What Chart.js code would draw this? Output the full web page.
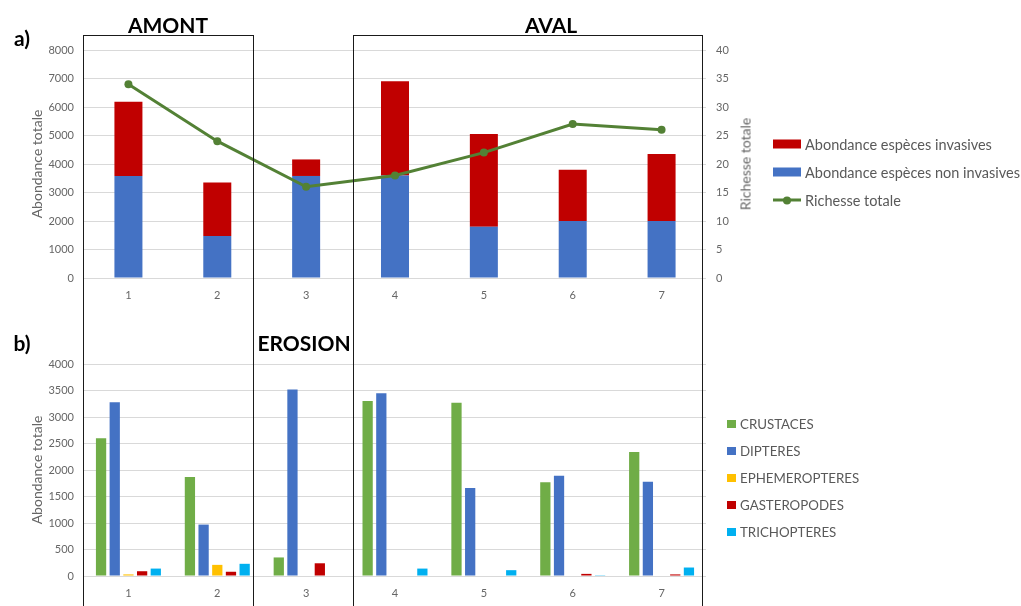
<!DOCTYPE html>
<html lang="fr">
<head>
<meta charset="utf-8">
<title>Abondance et richesse par site</title>
<script src="https://cdn.jsdelivr.net/npm/chart.js@4/dist/chart.umd.min.js"></script>
<style>
  html, body { margin: 0; padding: 0; background: #fff; }
  #page { position: relative; width: 1021px; height: 606px; overflow: hidden; font-family: Lato, "Liberation Sans", sans-serif; }
  canvas { position: absolute; left: 0; }
  .frame { position: absolute; box-sizing: border-box; border: 1.5px solid #1a1a1a; height: 700px; pointer-events: none; }
  .head { position: absolute; font-weight: bold; font-size: 21px; color: #000; transform: translate(-50%, -50%); white-space: nowrap; }
  .vtitle { position: absolute; font-size: 14px; color: #666; transform: translate(-50%, -50%) rotate(-90deg); white-space: nowrap; }
  .leg { position: absolute; color: #595959; white-space: nowrap; }
  .leg .row { position: absolute; left: 0; display: flex; align-items: center; transform: translateY(-50%); }
  .sw { display: inline-block; }
</style>
</head>
<body>
<div id="page">
  <canvas id="chartA" width="1021" height="310" style="top:0"></canvas>
  <canvas id="chartB" width="1021" height="296" style="top:310px"></canvas>

  <div class="frame" style="left:83px; top:35px; width:171px;"></div>
  <div class="frame" style="left:353px; top:35px; width:350px;"></div>

  <div class="head" style="left:22px; top:37px;">a)</div>
  <div class="head" style="left:22px; top:342px;">b)</div>
  <div class="head" style="left:168px; top:24px;">AMONT</div>
  <div class="head" style="left:551px; top:24px;">AVAL</div>
  <div class="head" style="left:304px; top:342px;">EROSION</div>

  <div class="vtitle" style="left:745px; top:164px;">Richesse totale</div>

  <div class="leg" id="legA" style="left:773px; top:0; font-size:14.5px;"></div>
  <div class="leg" id="legB" style="left:727px; top:0; font-size:13.3px;"></div>
</div>

<script>
// Sites 1 to 7
const sites = ['1', '2', '3', '4', '5', '6', '7'];

// a) Abondance totale par site, séparée en espèces non invasives / invasives
const abondanceNonInvasives = [3580, 1470, 3580, 3600, 1800, 2000, 2000];
const abondanceInvasives    = [2600, 1880,  580, 3300, 3250, 1800, 2350];
// a) Richesse totale (axe de droite)
const richesseTotale = [34, 24, 16, 18, 22, 27, 26];

// b) Abondance par groupe taxonomique
const crustaces      = [2600, 1870,  350, 3300, 3270, 1770, 2340];
const dipteres       = [3280,  970, 3520, 3450, 1660, 1890, 1780];
const ephemeropteres = [  30,  210,    0,    0,    0,    0,    0];
const gasteropodes   = [  90,   80,  240,    0,    0,   40,   30];
const trichopteres   = [ 140,  230,    0,  140,  110,   15,  160];

// Ticks
const ticksAbondanceA = { min: 0, max: 8000, step: 1000 };
const ticksRichesse   = { min: 0, max: 40, step: 5 };
const ticksAbondanceB = { min: 0, max: 4000, step: 500 };

const GREY_TEXT = '#666666';
const GRID = '#d9d9d9';
const tickFont = { family: 'Lato, "Liberation Sans", sans-serif', size: 11 };
const titleFont = { family: 'Lato, "Liberation Sans", sans-serif', size: 14 };
const plainNumber = v => String(v);

const COLORS = {
  invasive: '#c00000',
  nonInvasive: '#4472c4',
  richesse: '#538135',
  crustaces: '#70ad47',
  dipteres: '#4472c4',
  ephemeropteres: '#ffc000',
  gasteropodes: '#c00000',
  trichopteres: '#00b0f0'
};

Chart.defaults.animation = false;
Chart.defaults.color = GREY_TEXT;

// ---------- a) stacked bars + richness line ----------
new Chart(document.getElementById('chartA'), {
  type: 'bar',
  data: {
    labels: sites,
    datasets: [
      {
        label: 'Abondance espèces non invasives',
        data: abondanceNonInvasives,
        backgroundColor: COLORS.nonInvasive,
        stack: 'ab', yAxisID: 'y', order: 2,
        categoryPercentage: 0.8, barPercentage: 0.394
      },
      {
        label: 'Abondance espèces invasives',
        data: abondanceInvasives,
        backgroundColor: COLORS.invasive,
        stack: 'ab', yAxisID: 'y', order: 2,
        categoryPercentage: 0.8, barPercentage: 0.394
      },
      {
        type: 'line',
        label: 'Richesse totale',
        data: richesseTotale,
        yAxisID: 'y1', order: 1,
        borderColor: COLORS.richesse,
        backgroundColor: COLORS.richesse,
        borderWidth: 3,
        pointRadius: 4,
        pointBorderWidth: 0,
        tension: 0
      }
    ]
  },
  options: {
    responsive: false,
    layout: { padding: { top: 50, left: 0, right: 255, bottom: 0 } },
    plugins: { legend: { display: false }, tooltip: { enabled: false } },
    scales: {
      x: {
        stacked: true,
        grid: { display: false, drawTicks: false },
        border: { display: false },
        ticks: { font: tickFont, color: GREY_TEXT, padding: 11 },
        afterFit: s => { s.height = 32; }
      },
      y: {
        stacked: true,
        position: 'left',
        min: ticksAbondanceA.min, max: ticksAbondanceA.max,
        ticks: { stepSize: ticksAbondanceA.step, font: tickFont, color: GREY_TEXT, padding: 10, callback: plainNumber },
        grid: { color: GRID, drawTicks: false, lineWidth: 1 },
        border: { display: false },
        title: { display: true, text: 'Abondance totale', font: titleFont, color: GREY_TEXT, padding: { top: 29, bottom: 0 } },
        afterFit: s => { s.width = 84; }
      },
      y1: {
        position: 'right',
        min: ticksRichesse.min, max: ticksRichesse.max,
        ticks: { stepSize: ticksRichesse.step, font: tickFont, color: GREY_TEXT, padding: 10, callback: plainNumber },
        grid: { display: false, drawTicks: false },
        border: { display: false },
        afterFit: s => { s.width = 60; }
      }
    }
  }
});

// ---------- b) grouped bars by taxonomic group ----------
const groupes = [
  { label: 'CRUSTACES', data: crustaces, color: COLORS.crustaces },
  { label: 'DIPTERES', data: dipteres, color: COLORS.dipteres },
  { label: 'EPHEMEROPTERES', data: ephemeropteres, color: COLORS.ephemeropteres },
  { label: 'GASTEROPODES', data: gasteropodes, color: COLORS.gasteropodes },
  { label: 'TRICHOPTERES', data: trichopteres, color: COLORS.trichopteres }
];

new Chart(document.getElementById('chartB'), {
  type: 'bar',
  data: {
    labels: sites,
    datasets: groupes.map(g => ({
      label: g.label,
      data: g.data,
      backgroundColor: g.color,
      categoryPercentage: 0.77,
      barPercentage: 0.75
    }))
  },
  options: {
    responsive: false,
    layout: { padding: { top: 54, left: 0, right: 315, bottom: 0 } },
    plugins: { legend: { display: false }, tooltip: { enabled: false } },
    scales: {
      x: {
        grid: { display: false, drawTicks: false },
        border: { display: false },
        ticks: { font: tickFont, color: GREY_TEXT, padding: 11 },
        afterFit: s => { s.height = 30; }
      },
      y: {
        min: ticksAbondanceB.min, max: ticksAbondanceB.max,
        ticks: { stepSize: ticksAbondanceB.step, font: tickFont, color: GREY_TEXT, padding: 10, callback: plainNumber },
        grid: { color: GRID, drawTicks: false, lineWidth: 1 },
        border: { display: false },
        title: { display: true, text: 'Abondance totale', font: titleFont, color: GREY_TEXT, padding: { top: 29, bottom: 0 } },
        afterFit: s => { s.width = 84; }
      }
    }
  }
});

// ---------- legends ----------
function addRow(container, y, swatchHtml, text) {
  const row = document.createElement('div');
  row.className = 'row';
  row.style.top = y + 'px';
  row.innerHTML = swatchHtml + '<span>' + text + '</span>';
  container.appendChild(row);
}

const legA = document.getElementById('legA');
addRow(legA, 144, '<span class="sw" style="width:28px;height:9px;background:' + COLORS.invasive + ';margin-right:4px"></span>', 'Abondance espèces invasives');
addRow(legA, 172, '<span class="sw" style="width:28px;height:9px;background:' + COLORS.nonInvasive + ';margin-right:4px"></span>', 'Abondance espèces non invasives');
addRow(legA, 200,
  '<span class="sw" style="position:relative;width:28px;height:9px;margin-right:4px">' +
  '<span style="position:absolute;left:0;top:3px;width:28px;height:3px;background:' + COLORS.richesse + '"></span>' +
  '<span style="position:absolute;left:10px;top:0.5px;width:8px;height:8px;border-radius:50%;background:' + COLORS.richesse + '"></span></span>',
  'Richesse totale');

const legB = document.getElementById('legB');
groupes.forEach((g, i) => {
  addRow(legB, 424 + i * 27, '<span class="sw" style="width:9px;height:8px;background:' + g.color + ';margin-right:4px"></span>', g.label);
});
</script>
</body>
</html>
